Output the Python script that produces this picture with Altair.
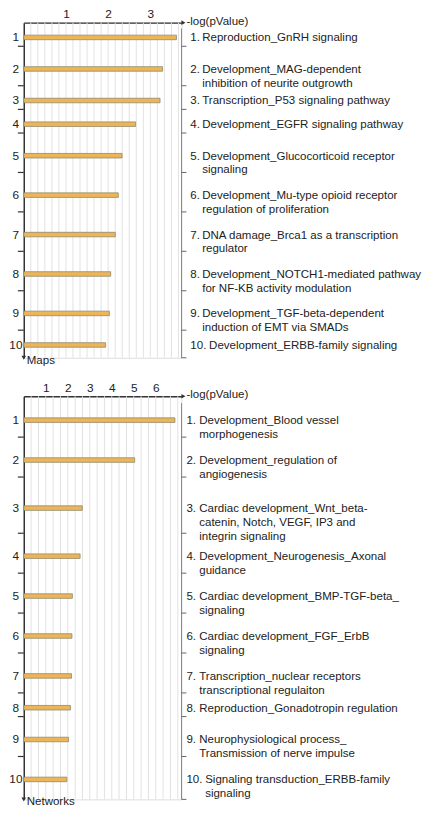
import altair as alt
import pandas as pd
import numpy as np

# ---------------- data ----------------
map_values = [3.62, 3.29, 3.23, 2.65, 2.33, 2.24, 2.17, 2.06, 2.03, 1.94]
map_labels = [
    ["Reproduction_GnRH signaling"],
    ["Development_MAG-dependent", "inhibition of neurite outgrowth"],
    ["Transcription_P53 signaling pathway"],
    ["Development_EGFR signaling pathway"],
    ["Development_Glucocorticoid receptor", "signaling"],
    ["Development_Mu-type opioid receptor", "regulation of proliferation"],
    ["DNA damage_Brca1 as a transcription", "regulator"],
    ["Development_NOTCH1-mediated pathway", "for NF-KB activity modulation"],
    ["Development_TGF-beta-dependent", "induction of EMT via SMADs"],
    ["Development_ERBB-family signaling"],
]
map_ticks = [1, 2, 3]

net_values = [6.87, 5.04, 2.66, 2.56, 2.21, 2.19, 2.17, 2.12, 2.03, 1.96]
net_labels = [
    ["Development_Blood vessel", "morphogenesis"],
    ["Development_regulation of", "angiogenesis"],
    ["Cardiac development_Wnt_beta-", "catenin, Notch, VEGF, IP3 and", "integrin signaling"],
    ["Development_Neurogenesis_Axonal", "guidance"],
    ["Cardiac development_BMP-TGF-beta_", "signaling"],
    ["Cardiac development_FGF_ErbB", "signaling"],
    ["Transcription_nuclear receptors", "transcriptional regulaiton"],
    ["Reproduction_Gonadotropin regulation"],
    ["Neurophysiological process_", "Transmission of nerve impulse"],
    ["Signaling transduction_ERBB-family", "signaling"],
]
net_ticks = [1, 2, 3, 4, 5, 6]

axis_title = "-log(pValue)"

FONT = "Liberation Sans"
FS = 11.7
W = 160


def panel(values, labels, ticks, unit, grid_step, a, b, top_off, H, label_dx,
          ind1, ind2, corner):
    D = W / unit
    n = len(values)
    nlines = [len(l) for l in labels]
    heights = np.array([a + b * k for k in nlines], dtype=float)
    starts = top_off + np.concatenate([[0.0], np.cumsum(heights)[:-1]])
    centers = starts + heights / 2
    df = pd.DataFrame({
        "num": [str(i + 1) for i in range(n)],
        "prefix": [f"{i + 1}." for i in range(n)],
        "digits": [len(str(i + 1)) for i in range(n)],
        "value": values,
        "center": centers,
        "y1": centers - 2.3,
        "y2": centers + 2.3,
        "body": ["\n".join(l) for l in labels],
    })
    bounds = np.concatenate([starts[1:], [starts[-1] + heights[-1]]])
    df_ticks = pd.DataFrame({"t": bounds[:-1] - 3})
    df_bticks = pd.DataFrame({"t": np.concatenate([bounds[:-1] - 3, [H]])})
    df_grid = pd.DataFrame({"g": np.arange(grid_step, D - 1e-6, grid_step)})
    one = pd.DataFrame({"k": [0]})

    xsc = alt.Scale(domain=[0, D], nice=False, zero=True)
    xax = alt.Axis(orient="top", values=ticks, ticks=False, grid=False,
                   domainColor="#333333", domainWidth=1.5, labelFontSize=12,
                   labelPadding=2, labelColor="#222222", labelFont=FONT,
                   title=None, format="d", labelFlush=False)
    ysc = alt.Scale(domain=[0, H], reverse=True, nice=False, zero=False)
    yax = alt.Axis(orient="left", labels=False, ticks=False, grid=False,
                   domainColor="#333333", domainWidth=1.5, title=None)
    yc = alt.Y("center:Q", scale=ysc, axis=yax)

    grid = alt.Chart(df_grid).mark_rule(color="#e2e2e2", strokeWidth=1).encode(
        x=alt.X("g:Q", scale=xsc, axis=xax), y=alt.value(0), y2=alt.value(H))
    bars = alt.Chart(df).mark_rect(color="#EDB558", stroke="#8E8A6E", strokeWidth=0.8).encode(
        x=alt.X("value:Q", scale=xsc, axis=xax), x2=alt.datum(0),
        y=alt.Y("y1:Q", scale=ysc, axis=yax), y2="y2:Q")
    nums = alt.Chart(df).mark_text(align="center", baseline="middle", fontSize=12,
                                   font=FONT, color="#222222").encode(
        x=alt.value(-8), y=yc, text="num:N")
    txt = dict(align="left", baseline="middle", fontSize=FS, font=FONT,
               color="#222222", lineBreak="\n", lineHeight=14)
    pre = alt.Chart(df).mark_text(**txt).encode(
        x=alt.value(W + label_dx), y=yc, text="prefix:N")
    body1 = alt.Chart(df).transform_filter("datum.digits == 1").mark_text(**txt).encode(
        x=alt.value(W + label_dx + ind1), y=yc, text="body:N")
    body2 = alt.Chart(df).transform_filter("datum.digits == 2").mark_text(**txt).encode(
        x=alt.value(W + label_dx + ind2), y=yc, text="body:N")
    lticks = alt.Chart(df_ticks).mark_rule(color="#333333", strokeWidth=1.2).encode(
        x=alt.value(-6), x2=alt.value(0), y=alt.Y("t:Q", scale=ysc, axis=yax))
    bline = alt.Chart(one).mark_rule(color="#888888", strokeWidth=1).encode(
        x=alt.value(W), y=alt.value(top_off + 3), y2=alt.value(H))
    bticks = alt.Chart(df_bticks).mark_rule(color="#666666", strokeWidth=1).encode(
        x=alt.value(W), x2=alt.value(W + 5), y=alt.Y("t:Q", scale=ysc, axis=yax))
    arr_r = alt.Chart(one).mark_point(shape="triangle-right", filled=True, size=22,
                                      color="#333333", opacity=1).encode(
        x=alt.value(W + 2), y=alt.value(0))
    arr_d = alt.Chart(one).mark_point(shape="triangle-down", filled=True, size=22,
                                      color="#333333", opacity=1).encode(
        x=alt.value(0), y=alt.value(H))
    ttl = alt.Chart(pd.DataFrame({"s": [axis_title]})).mark_text(
        align="left", baseline="middle", fontSize=FS, font=FONT, color="#222222").encode(
        x=alt.value(W + 5), y=alt.value(-2), text="s:N")
    crn = alt.Chart(pd.DataFrame({"s": [corner]})).mark_text(
        align="left", baseline="middle", fontSize=FS, font=FONT, color="#222222").encode(
        x=alt.value(3), y=alt.value(H + 2), text="s:N")

    return alt.layer(grid, bars, nums, pre, body1, body2, lticks, bline, bticks,
                     arr_r, arr_d, ttl, crn).properties(width=W, height=H)


top = panel(map_values, map_labels, map_ticks, 42.8, 1 / 6, 8, 16, 3, 340, 9, 12, 19, "Maps")
bottom = panel(net_values, net_labels, net_ticks, 22.32, 1 / 3, 7.5, 16.5, 4, 409, 5, 13, 19, "Networks")

chart = alt.vconcat(top, bottom, spacing=13).properties(
    padding={"left": 0, "top": -7, "right": 0, "bottom": 0}
).configure_view(stroke=None).configure(background="white")

chart.save("out.html", embed_options={"renderer": "svg", "actions": False})
